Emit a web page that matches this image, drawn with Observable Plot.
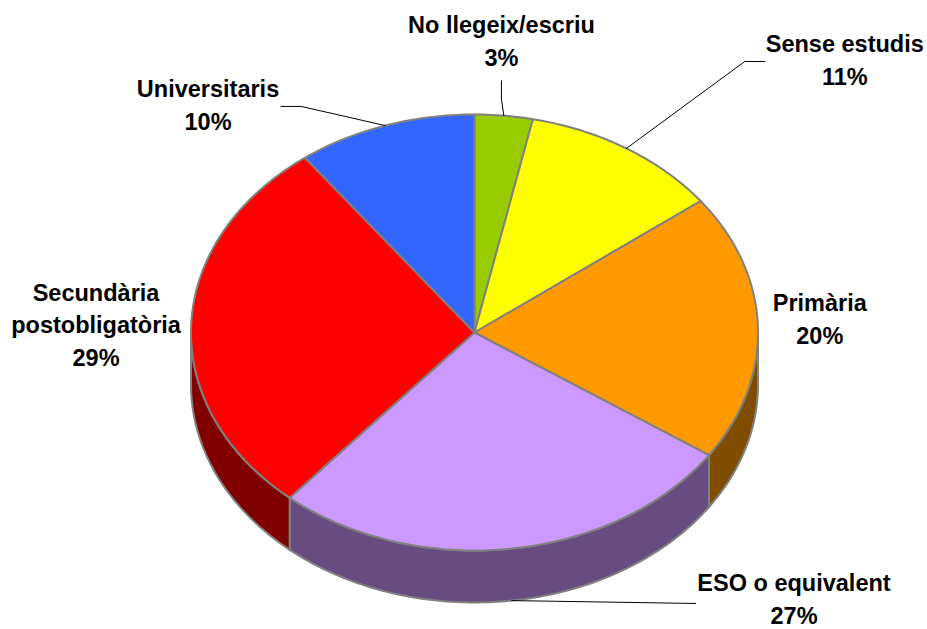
<!DOCTYPE html>
<html>
<head>
<meta charset="utf-8">
<script src="https://cdn.jsdelivr.net/npm/d3@7"></script>
<script src="https://cdn.jsdelivr.net/npm/@observablehq/plot@0.6"></script>
<style>
html,body{margin:0;padding:0;background:#fff;}
svg{display:block;}
</style>
</head>
<body>
<div id="chart"></div>
<script>
// Data
const categories = ["No llegeix/escriu", "Sense estudis", "Primària", "ESO o equivalent", "Secundària postobligatòria", "Universitaris"];
const sliceShares = [3.3, 11.4, 19.8, 26.8, 28.5, 10.2];
const printedLabels = ["3%", "11%", "20%", "27%", "29%", "10%"];
const labelLines = [["No llegeix/escriu"], ["Sense estudis"], ["Primària"], ["ESO o equivalent"], ["Secundària", "postobligatòria"], ["Universitaris"]];
const topColors = ["#99CC00", "#FFFF00", "#FF9900", "#CC99FF", "#FF0000", "#3366FF"];
const sideColors = ["#4D6600", "#808000", "#804D00", "#664C80", "#800000", "#1A3380"];

// Layout in pie units (the top ellipse has radius 1 on each scale)
const depth = 0.2385;
const labelCenters = [[0.095, 1.345], [1.306, 1.26], [1.218, 0.07], [1.127, -1.212], [-1.335, 0.044], [-0.94, 1.053]];
const leaderBends = [[[0.095, 1.07], [0.095, 1.155]], [[0.953, 1.243], [1.024, 1.243]], [], [[0.78, -1.243]], [], [[-0.611, 1.037], [-0.682, 1.037]]];
const leaderOnSide = [false, false, false, true, false, false];

const total = d3.sum(sliceShares);
const pt = t => [Math.sin(t), Math.cos(t)];
const slices = [];
let run = 0;
sliceShares.forEach((v, i) => {
  const t0 = run / total * 2 * Math.PI;
  run += v;
  slices.push({i, t0, t1: run / total * 2 * Math.PI});
});
const arc = (a, b) => {
  const n = Math.max(2, Math.ceil((b - a) * 60));
  return d3.range(n + 1).map(k => pt(a + (b - a) * k / n));
};

// Top faces
const topRows = slices.flatMap(s => {
  const ring = [[0, 0], ...arc(s.t0, s.t1), [0, 0]];
  return ring.map(([x, y]) => ({x, y, key: s.i, fill: topColors[s.i]}));
});
// Visible outer walls (front half only)
const wallRows = slices.flatMap(s => {
  const a = Math.max(s.t0, Math.PI / 2), b = Math.min(s.t1, 3 * Math.PI / 2);
  if (b <= a) return [];
  const upper = arc(a, b);
  const lower = upper.map(([x, y]) => [x, y - depth]).reverse();
  return [...upper, ...lower, upper[0]].map(([x, y]) => ({x, y, key: s.i, fill: sideColors[s.i]}));
});
// Leader lines from the middle of each slice's rim
const leaderRows = slices.flatMap(s => {
  const bends = leaderBends[s.i];
  if (!bends.length) return [];
  const [x, y] = pt((s.t0 + s.t1) / 2);
  return [[x, leaderOnSide[s.i] ? y - depth : y], ...bends].map(([x, y]) => ({x, y, key: s.i}));
});
const labelRows = categories.map((c, i) => ({
  x: labelCenters[i][0], y: labelCenters[i][1],
  text: [...labelLines[i], printedLabels[i]].join("\n")
}));

const chart = Plot.plot({
  width: 927, height: 629,
  margin: 0,
  style: {background: "#fff"},
  x: {domain: [-1, 1], range: [190.5, 757.5], axis: null},
  y: {domain: [-1, 1], range: [550, 114], axis: null},
  color: {type: "identity"},
  marks: [
    Plot.line(wallRows, {x: "x", y: "y", z: "key", fill: "fill", stroke: "#808080", strokeWidth: 2, curve: "linear"}),
    Plot.line(topRows, {x: "x", y: "y", z: "key", fill: "fill", stroke: "#808080", strokeWidth: 2, curve: "linear"}),
    Plot.line(leaderRows, {x: "x", y: "y", z: "key", stroke: "#000", strokeWidth: 1, curve: "linear"}),
    Plot.text(labelRows, {
      x: "x", y: "y", text: "text",
      fontFamily: "Liberation Sans", fontSize: 23.5, fontWeight: 700,
      lineHeight: 1.4, fill: "#000", textAnchor: "middle", lineAnchor: "middle"
    })
  ]
});
document.getElementById("chart").append(chart);
</script>
</body>
</html>
